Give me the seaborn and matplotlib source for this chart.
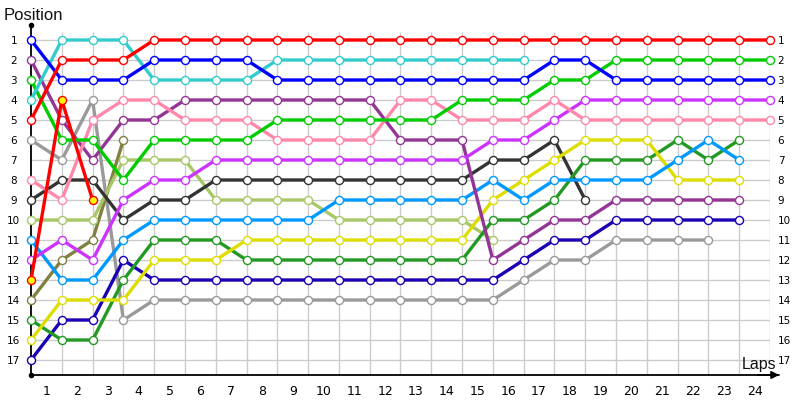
import matplotlib
matplotlib.use("Agg")
import matplotlib.pyplot as plt
import seaborn as sns
import pandas as pd

# ---------------- data ----------------
laps = list(range(0, 25))                 # 0 = starting grid
lap_labels = [str(i) for i in range(1, 25)]
positions = list(range(1, 18))

red = [5, 2, 2, 2, 1, 1, 1, 1, 1, 1, 1, 1, 1, 1, 1, 1, 1, 1, 1, 1, 1, 1, 1, 1, 1]
blue = [1, 3, 3, 3, 2, 2, 2, 2, 3, 3, 3, 3, 3, 3, 3, 3, 3, 2, 2, 3, 3, 3, 3, 3, 3]
cyan = [4, 1, 1, 1, 3, 3, 3, 3, 2, 2, 2, 2, 2, 2, 2, 2, 2]
green = [3, 6, 6, 8, 6, 6, 6, 6, 5, 5, 5, 5, 5, 5, 4, 4, 4, 3, 3, 2, 2, 2, 2, 2, 2]
purple = [2, 5, 7, 5, 5, 4, 4, 4, 4, 4, 4, 4, 6, 6, 6, 12, 11, 10, 10, 9, 9, 9, 9, 9]
pink = [8, 9, 5, 4, 4, 5, 5, 5, 6, 6, 6, 6, 4, 4, 5, 5, 5, 4, 5, 5, 5, 5, 5, 5, 5]
gray = [6, 7, 4, 15, 14, 14, 14, 14, 14, 14, 14, 14, 14, 14, 14, 14, 13, 12, 12, 11, 11, 11, 11]
black = [9, 8, 8, 10, 9, 9, 8, 8, 8, 8, 8, 8, 8, 8, 8, 7, 7, 6, 9]
red_yellow = [13, 4, 9]
magenta = [12, 11, 12, 9, 8, 8, 7, 7, 7, 7, 7, 7, 7, 7, 7, 6, 6, 5, 4, 4, 4, 4, 4, 4, 4]
light_green = [10, 10, 10, 7, 7, 7, 9, 9, 9, 9, 10, 10, 10, 10, 10, 11]
olive = [14, 12, 11, 6]
light_blue = [11, 13, 13, 11, 10, 10, 10, 10, 10, 10, 9, 9, 9, 9, 9, 8, 9, 8, 8, 8, 8, 7, 6, 7]
dark_green = [15, 16, 16, 13, 11, 11, 11, 12, 12, 12, 12, 12, 12, 12, 12, 10, 10, 9, 7, 7, 7, 6, 7, 6]
yellow = [16, 14, 14, 14, 12, 12, 12, 11, 11, 11, 11, 11, 11, 11, 11, 9, 8, 7, 6, 6, 6, 8, 8, 8]
navy = [17, 15, 15, 12, 13, 13, 13, 13, 13, 13, 13, 13, 13, 13, 13, 13, 12, 11, 11, 10, 10, 10, 10, 10]

drivers = [
    ("gray", gray, "#9a9a9a", "white"),
    ("olive", olive, "#808040", "white"),
    ("light_green", light_green, "#a8c868", "white"),
    ("black", black, "#333333", "white"),
    ("navy", navy, "#1a00b4", "white"),
    ("dark_green", dark_green, "#229922", "white"),
    ("yellow", yellow, "#dddd00", "white"),
    ("light_blue", light_blue, "#0099ff", "white"),
    ("purple", purple, "#933594", "white"),
    ("magenta", magenta, "#cc33ff", "white"),
    ("pink", pink, "#ff88aa", "white"),
    ("green", green, "#00cc00", "white"),
    ("cyan", cyan, "#33cccc", "white"),
    ("blue", blue, "#0000ff", "white"),
    ("red", red, "#ff0000", "white"),
    ("red_yellow", red_yellow, "#ff0000", "#ffff00"),
]

# ---------------- figure ----------------
sns.set_theme(style="white")
plt.rcParams["font.family"] = ["DejaVu Sans"]

fig = plt.figure(figsize=(8, 4), dpi=100)
ax = fig.add_axes([31 / 800, 25 / 400, 739 / 800, 350 / 400])
ax.set_xlim(0, 24)
ax.set_ylim(17.75, 0.25)

grid_c = "#cccccc"
ax.hlines(positions, 0, 24, color=grid_c, lw=1.0, zorder=0)
ax.vlines(laps[1:], 0.62, 17.75, color=grid_c, lw=1.0, zorder=0)

for name, vals, col, face in drivers:
    df = pd.DataFrame({"lap": laps[:len(vals)], "position": vals})
    sns.lineplot(data=df, x="lap", y="position", ax=ax, color=col, lw=2.4,
                 marker="o", markersize=5.8, markerfacecolor=face,
                 markeredgecolor=col, markeredgewidth=1.0,
                 legend=False, sort=False, estimator=None,
                 clip_on=False, zorder=3)

# axes styling
for s in ["top", "right"]:
    ax.spines[s].set_visible(False)
for s in ["left", "bottom"]:
    ax.spines[s].set_color("black")
    ax.spines[s].set_linewidth(1.3)
    ax.spines[s].set_zorder(2.5)

ax.set_xlabel("")
ax.set_ylabel("")
ax.set_xticks([l + 0.5 for l in laps[:-1]])
ax.set_xticklabels(lap_labels, fontsize=9)
ax.tick_params(axis="x", length=0, pad=7, colors="black")

ax.set_yticks(positions)
ax.set_yticklabels([str(p) for p in positions], fontsize=7.5)
ax.tick_params(axis="y", length=0, pad=12.5, colors="black")
for t in ax.get_yticklabels():
    t.set_ha("center")

ax2 = ax.twinx()
ax2.set_ylim(17.75, 0.25)
ax2.set_yticks(positions)
ax2.set_yticklabels([str(p) for p in positions], fontsize=7.5)
ax2.tick_params(axis="y", length=0, pad=5.5, colors="black")
for s in ax2.spines.values():
    s.set_visible(False)
ax2.grid(False)

# axis arrow / end dots
ax.annotate("", xy=(24.3, 17.75), xytext=(23.6, 17.75), xycoords="data",
            arrowprops=dict(arrowstyle="-|>", color="black", lw=1.3,
                            mutation_scale=11, shrinkA=0, shrinkB=0),
            annotation_clip=False)
ax.plot([23.9, 24.3], [17.75, 17.75], color="black", lw=1.3, clip_on=False)
ax.plot([0, 0], [0.25, 17.75], linestyle="none", marker="o", ms=3,
        color="black", clip_on=False, zorder=4)

fig.text(4 / 800, 1 - 15 / 400, "Position", ha="left", va="center",
         fontsize=12, family=["Liberation Sans", "DejaVu Sans"], color="#111111")
fig.text(742 / 800, 1 - 364 / 400, "Laps", ha="left", va="center",
         fontsize=11.5, family=["Liberation Sans", "DejaVu Sans"], color="#111111")

fig.savefig("out.png", dpi=100)
